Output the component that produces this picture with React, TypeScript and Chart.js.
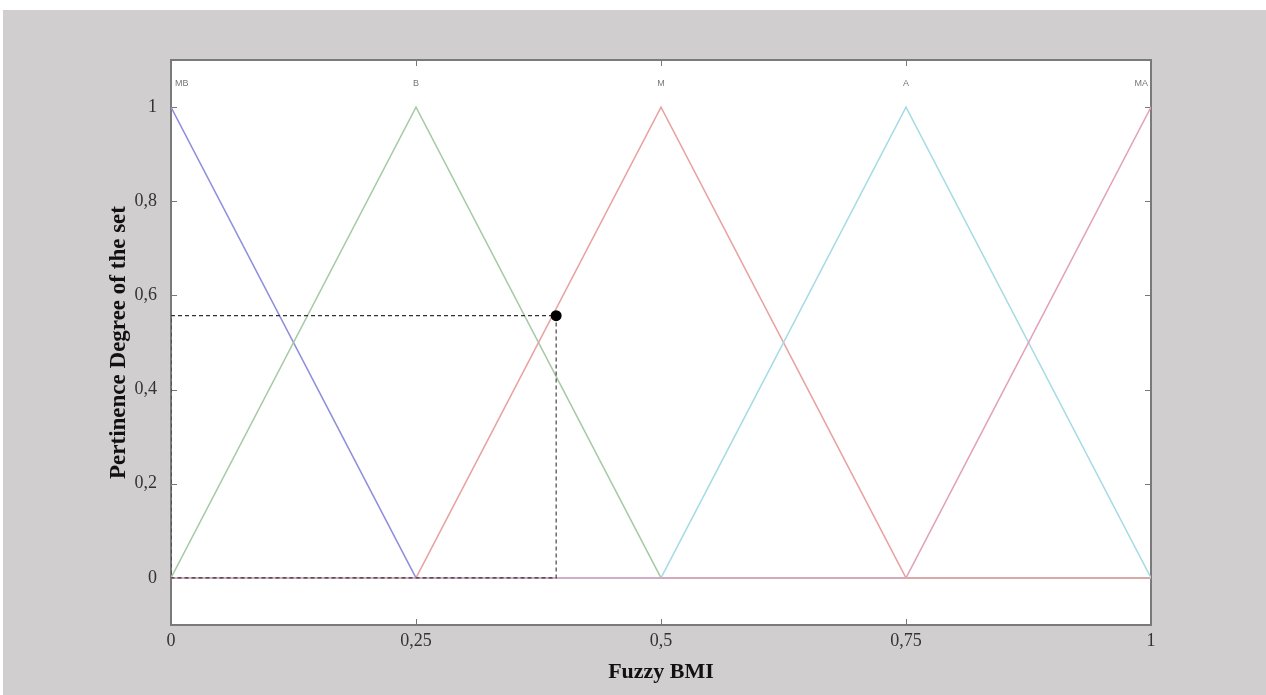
import React, { useEffect, useRef } from "react";
import { Chart, registerables } from "chart.js";

Chart.register(...registerables);

// Membership functions (x = Fuzzy BMI, y = pertinence degree)
const xMB = [0, 0.25, 1];
const yMB = [1, 0, 0];
const xB = [0, 0.25, 0.5, 1];
const yB = [0, 1, 0, 0];
const xM = [0, 0.25, 0.5, 0.75, 1];
const yM = [0, 0, 1, 0, 0];
const xA = [0, 0.5, 0.75, 1];
const yA = [0, 0, 1, 0];
const xMA = [0, 0.75, 1];
const yMA = [0, 0, 1];

// Input evaluation point and its projection rectangle
const inputX = 0.393;
const inputY = 0.557;
const guideX = [0, inputX, inputX, 0, 0];
const guideY = [inputY, inputY, 0, 0, inputY];

// Set labels above peaks
const setNames = ["MB", "B", "M", "A", "MA"];
const setPeaks = [0, 0.25, 0.5, 0.75, 1];
const setLabelY = 1.05;

// Axis ticks
const xTicks = [0, 0.25, 0.5, 0.75, 1];
const yTicks = [0, 0.2, 0.4, 0.6, 0.8, 1];

const fmt = (v: number) => String(Math.round(v * 100) / 100).replace(".", ",");
const pts = (xs: number[], ys: number[]) => xs.map((x, i) => ({ x, y: ys[i] }));

const serif = "'Liberation Serif', 'Times New Roman', serif";

const boxPlugin = {
  id: "matlabBox",
  beforeDatasetsDraw(chart: any) {
    const { ctx, chartArea: a, scales } = chart;
    const xs = scales.x;
    const ys = scales.y;
    ctx.save();
    ctx.fillStyle = "#ffffff";
    ctx.fillRect(a.left, a.top, a.right - a.left, a.bottom - a.top);
    // frame
    ctx.strokeStyle = "#7a7a7a";
    ctx.lineWidth = 2;
    ctx.strokeRect(a.left, a.top, a.right - a.left, a.bottom - a.top);
    // set labels
    ctx.fillStyle = "#777";
    ctx.font = "9px 'Liberation Sans', Arial, sans-serif";
    ctx.textBaseline = "middle";
    setNames.forEach((n, i) => {
      const px = xs.getPixelForValue(setPeaks[i]);
      const py = ys.getPixelForValue(setLabelY);
      ctx.textAlign = i === 0 ? "left" : i === setNames.length - 1 ? "right" : "center";
      ctx.fillText(n, px + (i === 0 ? 4 : i === setNames.length - 1 ? -3 : 0), py);
    });
    // inward ticks
    ctx.strokeStyle = "#777";
    ctx.lineWidth = 1;
    const tl = 6;
    xTicks.forEach((v) => {
      const px = Math.round(xs.getPixelForValue(v)) + 0.5;
      ctx.beginPath();
      ctx.moveTo(px, a.bottom);
      ctx.lineTo(px, a.bottom - tl);
      ctx.moveTo(px, a.top);
      ctx.lineTo(px, a.top + tl);
      ctx.stroke();
    });
    yTicks.forEach((v) => {
      const py = Math.round(ys.getPixelForValue(v)) + 0.5;
      ctx.beginPath();
      ctx.moveTo(a.left, py);
      ctx.lineTo(a.left + tl, py);
      ctx.moveTo(a.right, py);
      ctx.lineTo(a.right - tl, py);
      ctx.stroke();
    });
    ctx.restore();
  },
};

export default function App() {
  const ref = useRef<HTMLCanvasElement>(null);
  useEffect(() => {
    if (!ref.current) return;
    const line = (data: any, color: string, order: number) => ({
      data,
      order,
      borderColor: color,
      borderWidth: 1.5,
      pointRadius: 0,
      fill: false,
      tension: 0,
    });
    const chart = new Chart(ref.current, {
      type: "line",
      data: {
        datasets: [
          line(pts(xMB, yMB), "#8f8fdc", 5),
          line(pts(xB, yB), "#a6caa6", 4),
          line(pts(xM, yM), "#e9a2a2", 3),
          line(pts(xA, yA), "#a6dbe6", 2),
          line(pts(xMA, yMA), "#e2a2bc", 1),
          {
            data: pts(guideX, guideY),
            order: 0,
            borderColor: "#333",
            borderWidth: 1.1,
            borderDash: [4, 3],
            pointRadius: 0,
            fill: false,
          },
          {
            data: [{ x: inputX, y: inputY }],
            order: -1,
            showLine: false,
            pointRadius: 5.5,
            pointBorderWidth: 0,
            pointBackgroundColor: "#000",
            pointBorderColor: "#000",
            borderColor: "#000",
            backgroundColor: "#000",
          },
        ] as any,
      },
      options: {
        animation: false,
        responsive: false,
        events: [],
        layout: { padding: { left: 102, right: 115, top: 50, bottom: 0 } },
        plugins: { legend: { display: false }, tooltip: { enabled: false } },
        scales: {
          x: {
            type: "linear",
            min: 0,
            max: 1,
            grid: { display: false, drawTicks: false },
            border: { display: false },
            afterBuildTicks: (s: any) => {
              s.ticks = xTicks.map((v) => ({ value: v }));
            },
            afterFit: (s: any) => {
              s.height = 70;
            },
            ticks: {
              padding: 5,
              color: "#333",
              font: { family: serif, size: 18 },
              callback: (v: any) => fmt(Number(v)),
            },
            title: {
              display: true,
              text: "Fuzzy BMI",
              color: "#111",
              font: { family: serif, size: 22, weight: "bold" },
              padding: { top: 0, bottom: 9 },
            },
          },
          y: {
            type: "linear",
            min: -0.1,
            max: 1.1,
            grid: { display: false, drawTicks: false },
            border: { display: false },
            afterBuildTicks: (s: any) => {
              s.ticks = yTicks.map((v) => ({ value: v }));
            },
            afterFit: (s: any) => {
              s.width = 66;
            },
            ticks: {
              padding: 14,
              color: "#333",
              font: { family: serif, size: 18 },
              callback: (v: any) => fmt(Number(v)),
            },
            title: {
              display: true,
              text: "Pertinence Degree of the set",
              color: "#111",
              font: { family: serif, size: 23, weight: "bold" },
              padding: 0,
            },
          },
        },
      } as any,
      plugins: [boxPlugin],
    });
    return () => chart.destroy();
  }, []);
  return (
    <div style={{ position: "fixed", left: 0, top: 0, width: 1266, height: 695, background: "#fff" }}>
      <div style={{ position: "absolute", left: 3, top: 10, width: 1263, height: 685, background: "#d0cecf" }}>
        <canvas ref={ref} width={1263} height={685} style={{ display: "block" }} />
      </div>
    </div>
  );
}
